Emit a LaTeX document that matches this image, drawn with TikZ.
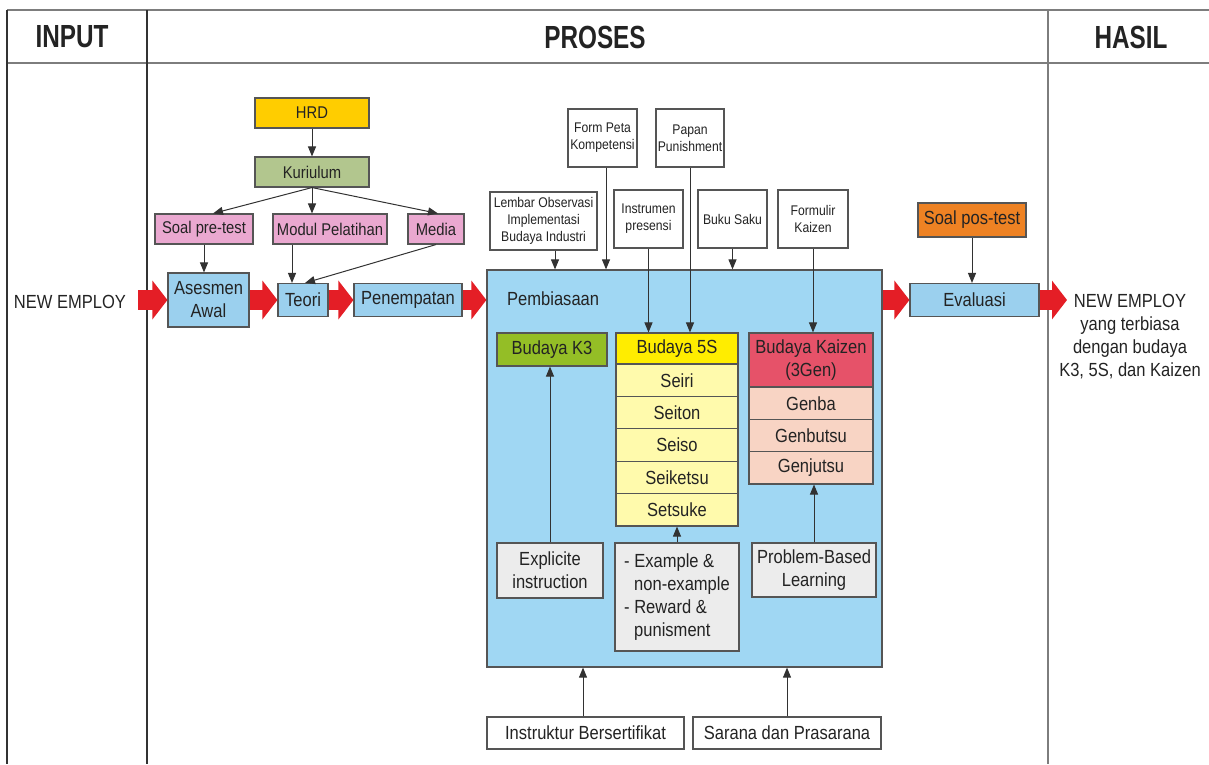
\documentclass[tikz,border=0pt]{standalone}
\usepackage{fontspec}
\setmainfont{Liberation Sans}[FakeStretch=0.87]
\newfontfamily\headfont{Liberation Sans}[FakeStretch=0.76]
\usepackage{xcolor}
\usetikzlibrary{arrows.meta}

\definecolor{txt}{RGB}{35,35,35}
\definecolor{boxline}{RGB}{85,85,85}
\definecolor{gridgray}{RGB}{125,125,125}
\definecolor{framedark}{RGB}{50,50,50}
\definecolor{hrdgold}{RGB}{255,205,0}
\definecolor{kurgreen}{RGB}{178,198,142}
\definecolor{softpink}{RGB}{234,168,208}
\definecolor{boxblue}{RGB}{155,208,238}
\definecolor{bigblue}{RGB}{160,215,243}
\definecolor{kgreen}{RGB}{148,190,38}
\definecolor{fsyellow}{RGB}{255,237,0}
\definecolor{fslight}{RGB}{255,250,172}
\definecolor{kzred}{RGB}{230,82,105}
\definecolor{kzpeach}{RGB}{248,212,196}
\definecolor{softgray}{RGB}{236,236,236}
\definecolor{postorange}{RGB}{238,130,35}
\definecolor{fatred}{RGB}{228,30,38}

\tikzset{
  box/.style={draw=boxline, line width=1.1pt, inner sep=0pt, align=center, text=txt,
    font=\fontsize{19}{23}\selectfont},
  smallbox/.style={box, fill=white, font=\fontsize{14}{17}\selectfont},
  plain/.style={inner sep=0pt, align=center, text=txt, font=\fontsize{19}{23}\selectfont},
  head/.style={inner sep=0pt, text=txt, font=\headfont\bfseries\fontsize{32}{36}\selectfont},
  conn/.style={draw=framedark, line width=1pt, -{Triangle[length=10pt,width=8pt]}},
  fat/.style={draw=fatred, line width=20pt, -{Triangle[length=15pt,width=38pt]}}
}

\begin{document}
\begin{tikzpicture}[x=1pt,y=-1pt]
  \useasboundingbox (0,0) rectangle (1209,764);

  \draw[gridgray, line width=1.5pt] (7,10) -- (1209,10);
  \draw[gridgray, line width=2pt] (7,63) -- (1209,63);
  \draw[framedark, line width=1.8pt] (7,10) -- (7,764);
  \draw[framedark, line width=1.5pt] (147,10) -- (147,764);
  \draw[gridgray, line width=1.5pt] (1048,10) -- (1048,764);

  \node[head] (input) at (72,37) {INPUT};
  \node[head] (proses) at (595,37) {PROSES};
  \node[head] (hasil) at (1131,37) {HASIL};

  \node[plain] (newin) at (70,302) {NEW EMPLOY};
  \coordinate (intail) at (138,300);

  \node[box, fill=hrdgold, minimum width=114pt, minimum height=30pt, font=\fontsize{17}{20}\selectfont] (hrd) at (312,113) {HRD};
  \node[box, fill=kurgreen, minimum width=114pt, minimum height=30pt, font=\fontsize{17}{20}\selectfont] (kur) at (312,172) {Kuriulum};
  \node[box, fill=softpink, minimum width=98pt, minimum height=30pt, font=\fontsize{17}{20}\selectfont] (pre) at (204,229) {Soal pre-test};
  \node[box, fill=softpink, minimum width=114pt, minimum height=30pt, font=\fontsize{17}{20}\selectfont] (modul) at (330,229) {Modul Pelatihan};
  \node[box, fill=softpink, minimum width=56pt, minimum height=30pt, font=\fontsize{17}{20}\selectfont] (media) at (436,229) {Media};

  \node[box, fill=boxblue, minimum width=81pt, minimum height=54pt] (asm) at (208.5,300) {Asesmen\\Awal};
  \node[box, fill=boxblue, minimum width=50pt, minimum height=33pt] (teori) at (303,300) {Teori};
  \node[box, fill=boxblue, minimum width=108pt, minimum height=33pt] (penem) at (408,300) {Penempatan};

  \node[smallbox, minimum width=69pt, minimum height=58pt] (form) at (602.5,138) {Form Peta\\Kompetensi};
  \node[smallbox, minimum width=68pt, minimum height=58pt] (papan) at (690,138) {Papan\\Punishment};
  \node[smallbox, minimum width=107pt, minimum height=58pt] (lembar) at (543.5,221) {Lembar Observasi\\Implementasi\\Budaya Industri};
  \node[smallbox, minimum width=69pt, minimum height=58pt] (instr) at (648.5,219) {Instrumen\\presensi};
  \node[smallbox, minimum width=69pt, minimum height=58pt] (buku) at (732.5,219) {Buku Saku};
  \node[smallbox, minimum width=70pt, minimum height=58pt] (formulir) at (813,219) {Formulir\\Kaizen};

  \node[draw=boxline, fill=bigblue, line width=1.2pt, minimum width=395pt, minimum height=397pt, inner sep=0pt] (pemb) at (684.5,468.5) {};
  \node[plain, anchor=west] (lblpemb) at (507,299) {Pembiasaan};

  \node[box, fill=kgreen, minimum width=110pt, minimum height=33pt] (k3) at (552,349.5) {Budaya K3};

  \node[box, fill=fsyellow, minimum width=122pt, minimum height=31pt] (s5) at (677,348.5) {Budaya 5S};
  \node[box, fill=fslight, minimum width=122pt, minimum height=32.4pt] (seiri) at (677,380.2) {Seiri};
  \node[box, fill=fslight, minimum width=122pt, minimum height=32.4pt] (seiton) at (677,412.6) {Seiton};
  \node[box, fill=fslight, minimum width=122pt, minimum height=32.4pt] (seiso) at (677,445) {Seiso};
  \node[box, fill=fslight, minimum width=122pt, minimum height=32.4pt] (seiketsu) at (677,477.4) {Seiketsu};
  \node[box, fill=fslight, minimum width=122pt, minimum height=32.4pt] (setsuke) at (677,509.8) {Setsuke};

  \node[box, fill=kzred, minimum width=124pt, minimum height=54pt] (kaizen) at (811,360) {Budaya Kaizen\\(3Gen)};
  \node[box, fill=kzpeach, minimum width=124pt, minimum height=32.3pt] (genba) at (811,403.2) {Genba};
  \node[box, fill=kzpeach, minimum width=124pt, minimum height=32.3pt] (genbutsu) at (811,435.5) {Genbutsu};
  \node[box, fill=kzpeach, minimum width=124pt, minimum height=32.3pt] (genjutsu) at (811,467.8) {Genjutsu};

  \node[box, fill=softgray, minimum width=106pt, minimum height=55pt] (expl) at (550,570.5) {Explicite\\instruction};
  \node[box, fill=softgray, minimum width=124pt, minimum height=108pt, align=left] (exm) at (677,597) {- Example \&\\\hspace*{10pt}non-example\\- Reward \&\\\hspace*{10pt}punisment};
  \node[box, fill=softgray, minimum width=124pt, minimum height=54pt] (pbl) at (814,570) {Problem-Based\\Learning};

  \node[box, fill=white, minimum width=197pt, minimum height=32pt] (instruktur) at (585.5,733) {Instruktur Bersertifikat};
  \node[box, fill=white, minimum width=188pt, minimum height=32pt] (sarana) at (787,733) {Sarana dan Prasarana};

  \node[box, fill=postorange, minimum width=108pt, minimum height=34pt] (postest) at (972,220) {Soal pos-test};
  \node[box, fill=boxblue, minimum width=129pt, minimum height=33pt] (eval) at (974.5,300) {Evaluasi};

  \node[plain] (newout) at (1130,337) {NEW EMPLOY\\yang terbiasa\\dengan budaya\\K3, 5S, dan Kaizen};
  \coordinate (outtip) at (1067,300);

  \draw[conn] (hrd) -- (kur);
  \draw[conn] (kur.south) -- ([xshift=9pt]pre.north);
  \draw[conn] (kur.south) -- ([xshift=-18pt]modul.north);
  \draw[conn] (kur.south) -- ([xshift=2pt]media.north);
  \draw[conn] (pre.south) -- (pre.south |- asm.north);
  \draw[conn] ([xshift=-38pt]modul.south) -- ([xshift=-11pt]teori.north);
  \draw[conn] (media.south) -- ([xshift=2pt]teori.north);

  \draw[conn] ([xshift=11.5pt]lembar.south) -- ([xshift=-129.5pt]pemb.north);
  \draw[conn] ([xshift=3.5pt]form.south) -- ([xshift=-78.5pt]pemb.north);
  \draw[conn] (instr.south) -- ([xshift=-28.5pt]s5.north);
  \draw[conn] (papan.south) -- ([xshift=13pt]s5.north);
  \draw[conn] (buku.south) -- ([xshift=48pt]pemb.north);
  \draw[conn] (formulir.south) -- ([xshift=2pt]kaizen.north);

  \draw[conn] (expl.north) -- ([xshift=-2pt]k3.south);
  \draw[conn] (exm.north) -- (setsuke.south);
  \draw[conn] (pbl.north) -- ([xshift=3pt]genjutsu.south);
  \draw[conn] ([xshift=-2.5pt]instruktur.north) -- ([xshift=-101.5pt]pemb.south);
  \draw[conn] (sarana.north) -- ([xshift=102.5pt]pemb.south);
  \draw[conn] (postest.south) -- ([xshift=-2.5pt]eval.north);

  \draw[fat] (intail) -- (asm.west);
  \draw[fat] (asm.east) -- (teori.west);
  \draw[fat] (teori.east) -- (penem.west);
  \draw[fat] (penem.east) -- (penem.east -| pemb.west);
  \draw[fat] (pemb.east |- eval.west) -- (eval.west);
  \draw[fat] (eval.east) -- (outtip);
\end{tikzpicture}
\end{document}
